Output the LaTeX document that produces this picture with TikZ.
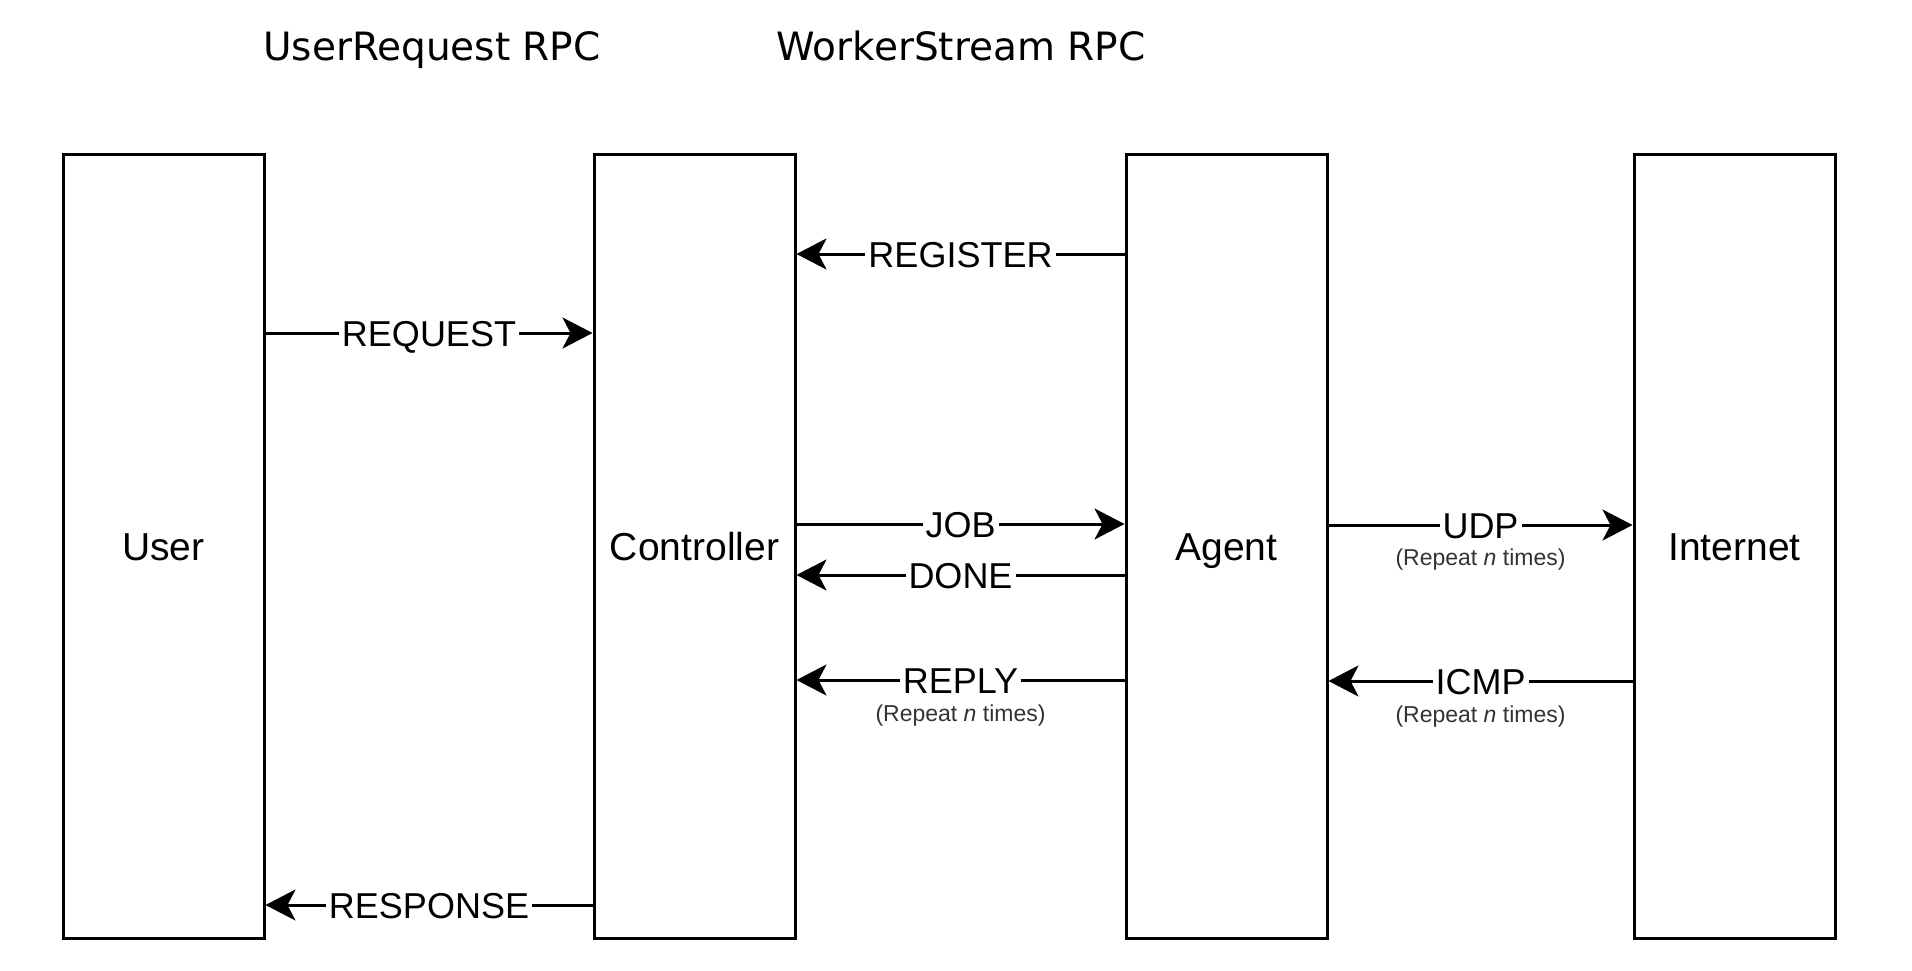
\documentclass[tikz,border=0pt]{standalone}
\usepackage{fontspec}
\setmainfont{Liberation Sans}
\newfontfamily\titlefont{DejaVu Sans}
\usepackage{tikz}
\usetikzlibrary{arrows.meta,positioning}
\definecolor{subgray}{HTML}{333333}

\tikzset{
  actor/.style={draw, line width=1.5pt, minimum width=100.5pt, minimum height=392pt,
    inner sep=0pt, text height=14pt, text depth=0pt, font=\fontsize{19.5}{23}\selectfont},
  msg/.style={line width=1.5pt, -{Stealth[length=15pt, width=15.5pt, inset=4pt]}},
  lbl/.style={fill=white, inner xsep=1.5pt, inner ysep=0pt, text height=13pt, text depth=0pt,
    font=\fontsize{18}{21}\selectfont},
  rep/.style={text=subgray, inner sep=0pt, font=\fontsize{11.5}{14}\selectfont},
  rpc/.style={anchor=base, font=\titlefont\fontsize{19.5}{23}\selectfont}
}

\begin{document}
\begin{tikzpicture}[x=0.5pt, y=-0.5pt]
    \useasboundingbox (0,0) rectangle (1912,970);

    % Titel
    \node[rpc] (userrpc) at (432,60) {UserRequest RPC};
    \node[rpc] (workerrpc) at (961,60) {WorkerStream RPC};

    % Teilnehmer
    \node[actor] (user) at (163.5,546) {User};
    \node[actor] (ctrl) at (694.5,546) {Controller};
    \node[actor] (agent) at (1226.5,546) {Agent};
    \node[actor] (inet) at (1734.5,546) {Internet};

    % Nachrichten
    \draw[msg] (agent.west |- 0,254) -- node[lbl] (register) {REGISTER} (ctrl.east |- 0,254);
    \draw[msg] (user.east |- 0,333) -- node[lbl] (request) {REQUEST} (ctrl.west |- 0,333);
    \draw[msg] (ctrl.east |- 0,524) -- node[lbl] (job) {JOB} (agent.west |- 0,524);
    \draw[msg] (agent.west |- 0,575) -- node[lbl] (done) {DONE} (ctrl.east |- 0,575);
    \draw[msg] (agent.west |- 0,680) -- node[lbl] (reply) {REPLY} (ctrl.east |- 0,680);
    \draw[msg] (agent.east |- 0,525) -- node[lbl] (udp) {UDP} (inet.west |- 0,525);
    \draw[msg] (inet.west |- 0,681) -- node[lbl] (icmp) {ICMP} (agent.east |- 0,681);
    \draw[msg] (ctrl.west |- 0,905) -- node[lbl] (response) {RESPONSE} (user.east |- 0,905);

    % Wiederholung
    \node[rep, yshift=-18pt] at (reply) {(Repeat \textit{n} times)};
    \node[rep, yshift=-17.5pt] at (udp) {(Repeat \textit{n} times)};
    \node[rep, yshift=-18pt] at (icmp) {(Repeat \textit{n} times)};
\end{tikzpicture}
\end{document}
